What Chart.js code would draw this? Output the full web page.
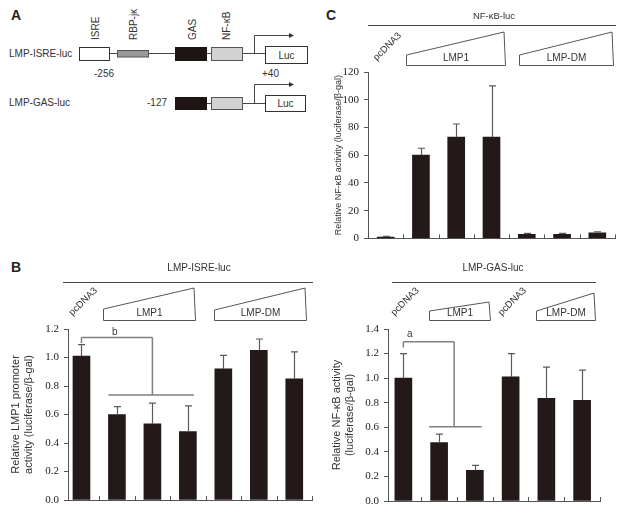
<!DOCTYPE html>
<html><head><meta charset="utf-8">
<script src="https://cdn.jsdelivr.net/npm/chart.js@4.4.1/dist/chart.umd.min.js"></script>
<style>
html,body{margin:0;padding:0;background:#fff;}
body{width:628px;height:513px;position:relative;overflow:hidden;font-family:'Liberation Sans',Arial,sans-serif;color:#333;}
.wrap{position:absolute;}
.pl{position:absolute;font-weight:bold;font-size:14px;color:#222;font-family:'Liberation Sans',Arial,sans-serif;}
svg{position:absolute;left:0;top:0;}
.preload{position:absolute;left:-999px;top:-999px;}
</style></head>
<body>
<span class="preload" style="font-family:'Liberation Serif'">0.123</span>
<span class="preload" style="font-family:'Liberation Sans'">abc</span>

<svg width="320" height="130" viewBox="0 0 320 130" font-family="Liberation Sans, Arial, sans-serif" font-size="10" fill="#333">
  <!-- row 1 -->
  <text x="9" y="57">LMP-ISRE-luc</text>
  <line x1="109" y1="53.5" x2="265" y2="53.5" stroke="#444" stroke-width="1"/>
  <rect x="79.5" y="47.5" width="30" height="13" fill="#fff" stroke="#333"/>
  <rect x="117.5" y="50.5" width="31" height="6.5" fill="#9a9a9a" stroke="#555"/>
  <rect x="175.5" y="47.5" width="31" height="13" fill="#1d1414" stroke="#1d1414"/>
  <rect x="211.5" y="47.5" width="31" height="13" fill="#d2d2d2" stroke="#555"/>
  <polyline points="254.5,53.5 254.5,35.5 290,35.5" fill="none" stroke="#444"/>
  <polygon points="289,33 294,35.5 289,38" fill="#333"/>
  <rect x="265.5" y="46.5" width="42" height="17" fill="#fff" stroke="#333"/>
  <text x="286.5" y="58.5" text-anchor="middle">Luc</text>
  <text transform="translate(98.5,40) rotate(-90)" font-size="10">ISRE</text>
  <text transform="translate(136.5,40) rotate(-90)" font-size="10">RBP-jκ</text>
  <text transform="translate(195.5,40) rotate(-90)" font-size="10">GAS</text>
  <text transform="translate(229.5,40) rotate(-90)" font-size="10">NF-κB</text>
  <text x="94" y="77">-256</text>
  <text x="262" y="77">+40</text>
  <!-- row 2 -->
  <text x="9" y="106">LMP-GAS-luc</text>
  <text x="147" y="106">-127</text>
  <line x1="206" y1="103.5" x2="265" y2="103.5" stroke="#444"/>
  <rect x="175.5" y="97.5" width="31" height="12" fill="#1d1414" stroke="#1d1414"/>
  <rect x="211.5" y="97.5" width="31" height="12" fill="#d2d2d2" stroke="#555"/>
  <polyline points="254.5,103.5 254.5,84.5 290,84.5" fill="none" stroke="#444"/>
  <polygon points="289,82 294,84.5 289,87" fill="#333"/>
  <rect x="265.5" y="95.5" width="40" height="16" fill="#fff" stroke="#333"/>
  <text x="285.5" y="107" text-anchor="middle">Luc</text>
</svg>

<div class="pl" style="left:11px;top:7px;">A</div>
<div class="pl" style="left:11px;top:259px;">B</div>
<div class="pl" style="left:326px;top:7px;">C</div>

<div class="wrap" style="left:300px;top:0px;"><canvas id="cC" width="328" height="250"></canvas></div>
<div class="wrap" style="left:0px;top:250px;"><canvas id="cB1" width="320" height="263"></canvas></div>
<div class="wrap" style="left:320px;top:250px;"><canvas id="cB2" width="308" height="263"></canvas></div>

<script>
// ---------------- DATA ----------------
// Panel C: NF-kB-luc
const categoriesC = ['pcDNA3', 'LMP1', 'LMP1', 'LMP1', 'LMP-DM', 'LMP-DM', 'LMP-DM'];
const valuesC     = [1, 60, 73, 73, 3, 3, 4];
const errorTopC   = [1.4, 65, 82.5, 110, 3.6, 3.6, 4.8];
const ticksC      = [0, 20, 40, 60, 80, 100, 120];
const groupsC     = ['LMP1', 'LMP-DM'];

// Panel B left: LMP-ISRE-luc
const categoriesB1 = ['pcDNA3', 'LMP1', 'LMP1', 'LMP1', 'LMP-DM', 'LMP-DM', 'LMP-DM'];
const valuesB1     = [1.01, 0.60, 0.535, 0.48, 0.92, 1.05, 0.85];
const errorTopB1   = [1.09, 0.655, 0.68, 0.66, 1.015, 1.13, 1.04];
const ticksB1      = [0, 0.2, 0.4, 0.6, 0.8, 1.0, 1.2];
const groupsB1     = ['LMP1', 'LMP-DM'];

// Panel B right: LMP-GAS-luc
const categoriesB2 = ['pcDNA3', 'LMP1', 'LMP1', 'pcDNA3', 'LMP-DM', 'LMP-DM'];
const valuesB2     = [1.0, 0.475, 0.25, 1.01, 0.835, 0.82];
const errorTopB2   = [1.2, 0.545, 0.29, 1.2, 1.09, 1.065];
const ticksB2      = [0, 0.2, 0.4, 0.6, 0.8, 1.0, 1.2, 1.4];
const groupsB2     = ['LMP1', 'LMP-DM'];

// ---------------- STYLE ----------------
const BAR = '#221918';
const AX = '#555';
const TXT = '#333';
const SANS = "'Liberation Sans', Arial, sans-serif";
const SERIF = "'Liberation Serif', serif";

const decorPlugin = {
  id: 'decor',
  afterDraw(chart, args, o) {
    const ctx = chart.ctx, xs = chart.scales.x, ys = chart.scales.y, area = chart.chartArea;
    const X = v => xs.getPixelForValue(v), Y = v => ys.getPixelForValue(v);
    ctx.save();
    // error bars (upper only, with cap)
    ctx.strokeStyle = '#5a5a5a'; ctx.lineWidth = 1.2;
    chart.getDatasetMeta(0).data.forEach((bar, i) => {
      const x = Math.round(bar.x) + 0.5, y0 = bar.y, y1 = Y(o.errTop[i]);
      ctx.beginPath(); ctx.moveTo(x, y0); ctx.lineTo(x, y1);
      ctx.moveTo(x - 3.5, y1); ctx.lineTo(x + 3.5, y1); ctx.stroke();
    });
    // inward x ticks at category boundaries
    ctx.strokeStyle = AX; ctx.lineWidth = 1;
    for (let i = 0; i < o.n; i++) {
      const x = Math.round(X(i + 0.5)) + 0.5;
      ctx.beginPath(); ctx.moveTo(x, area.bottom); ctx.lineTo(x, area.bottom - 4); ctx.stroke();
    }
    // header
    const h = o.header;
    ctx.fillStyle = TXT; ctx.font = h.size + 'px ' + SANS; ctx.textAlign = 'center'; ctx.textBaseline = 'middle';
    ctx.fillText(h.text, h.tx, h.ty);
    ctx.strokeStyle = '#444'; ctx.lineWidth = 1;
    ctx.beginPath(); ctx.moveTo(h.x0, h.ly + 0.5); ctx.lineTo(h.x1, h.ly + 0.5); ctx.stroke();
    // group trapezoids
    ctx.strokeStyle = '#555'; ctx.lineWidth = 1;
    o.groups.forEach((g, k) => {
      const x0 = Math.round(X(g.from)) + 0.5, x1 = Math.round(X(g.to)) + 0.5;
      ctx.beginPath();
      ctx.moveTo(x0, g.lt); ctx.lineTo(x0, g.bottom + 0.5); ctx.lineTo(x1, g.bottom + 0.5);
      ctx.lineTo(x1 - 1.5, g.rt); ctx.closePath(); ctx.stroke();
      ctx.fillStyle = TXT; ctx.font = '10px ' + SANS; ctx.textAlign = 'center'; ctx.textBaseline = 'middle';
      ctx.fillText(o.groupNames[k], (x0 + x1) / 2, g.bottom - 7);
    });
    // rotated control labels
    ctx.font = '9.5px ' + SANS; ctx.textAlign = 'left'; ctx.textBaseline = 'alphabetic'; ctx.fillStyle = TXT;
    o.cats.forEach((c, i) => {
      if (c !== 'pcDNA3') return;
      ctx.save(); ctx.translate(X(i - 0.25), o.rotY); ctx.rotate(-Math.PI / 4);
      ctx.fillText(c, 0, 0); ctx.restore();
    });
    // significance bracket
    if (o.bracket) {
      ctx.strokeStyle = '#808080'; ctx.lineWidth = 1.5;
      ctx.beginPath();
      o.bracket.segs.forEach(s => { ctx.moveTo(X(s[0]), Y(s[1])); ctx.lineTo(X(s[2]), Y(s[3])); });
      ctx.stroke();
      ctx.fillStyle = TXT; ctx.font = '10px ' + SANS; ctx.textAlign = 'center'; ctx.textBaseline = 'middle';
      ctx.fillText(o.bracket.label, X(o.bracket.lx), Y(o.bracket.ly));
    }
    ctx.restore();
  }
};

function makeChart(id, cfg) {
  return new Chart(document.getElementById(id), {
    type: 'bar',
    data: {
      labels: cfg.cats,
      datasets: [{
        data: cfg.vals.map((v, i) => ({ x: i, y: v })),
        backgroundColor: BAR, borderWidth: 0, barThickness: 17
      }]
    },
    options: {
      responsive: false, animation: false,
      layout: { padding: cfg.padding },
      plugins: {
        legend: { display: false }, tooltip: { enabled: false },
        decor: {
          errTop: cfg.err, n: cfg.cats.length, cats: cfg.cats, header: cfg.header,
          groups: cfg.groups, groupNames: cfg.groupNames, rotY: cfg.rotY, bracket: cfg.bracket
        }
      },
      scales: {
        x: {
          type: 'linear', min: cfg.xmin, max: cfg.xmax, offset: false,
          ticks: { display: false }, grid: { display: false },
          border: { display: true, color: AX, width: 1 },
          afterFit(s) { s.height = cfg.xh; }
        },
        y: {
          min: cfg.ticks[0], max: cfg.ticks[cfg.ticks.length - 1],
          afterBuildTicks(s) { s.ticks = cfg.ticks.map(v => ({ value: v })); },
          ticks: { font: { family: SERIF, size: 11 }, color: '#222', padding: 5, callback: cfg.fmt },
          grid: { drawOnChartArea: false, drawTicks: true, tickLength: 4, color: AX },
          border: { display: true, color: AX, width: 1 },
          title: { display: true, text: cfg.title, color: TXT,
                   font: { family: SANS, size: cfg.titleSize, lineHeight: 1.2 },
                   padding: { top: cfg.titlePad, bottom: 0 } },
          afterFit(s) { s.width = 68; }
        }
      }
    },
    plugins: [decorPlugin]
  });
}

function drawAll() {
  makeChart('cC', {
    cats: categoriesC, vals: valuesC, err: errorTopC, ticks: ticksC, groupNames: groupsC,
    fmt: v => String(v),
    padding: { left: 0, top: 72, right: 13, bottom: 0 }, xh: 7, xmin: -0.5, xmax: 6.5,
    title: 'Relative NF-κB activity (luciferase/β-gal)', titleSize: 9, titlePad: 33.5,
    header: { text: 'NF-κB-luc', size: 9.5, tx: 194, ty: 16, x0: 68, x1: 316, ly: 25 },
    groups: [ { from: 0.57, to: 3.37, bottom: 65, lt: 55, rt: 32 },
              { from: 3.77, to: 6.43, bottom: 65, lt: 55, rt: 32 } ],
    rotY: 61
  });

  makeChart('cB1', {
    cats: categoriesB1, vals: valuesB1, err: errorTopB1, ticks: ticksB1, groupNames: groupsB1,
    fmt: v => v.toFixed(1),
    padding: { left: 0, top: 79, right: 8, bottom: 0 }, xh: 13, xmin: -0.38, xmax: 6.5,
    title: ['Relative LMP1 promoter', 'activity (luciferase/β-gal)'], titleSize: 11, titlePad: 9.5,
    header: { text: 'LMP-ISRE-luc', size: 10, tx: 199, ty: 18, x0: 63, x1: 313, ly: 32 },
    groups: [ { from: 0.61, to: 3.2, bottom: 70, lt: 59, rt: 38 },
              { from: 3.74, to: 6.33, bottom: 70, lt: 60, rt: 38 } ],
    rotY: 66,
    bracket: { segs: [[0, 1.10, 0, 1.14], [0, 1.14, 2, 1.14], [2, 1.14, 2, 0.737], [0.76, 0.737, 3.17, 0.737]],
               label: 'b', lx: 0.94, ly: 1.18 }
  });

  makeChart('cB2', {
    cats: categoriesB2, vals: valuesB2, err: errorTopB2, ticks: ticksB2, groupNames: groupsB2,
    fmt: v => v.toFixed(1),
    padding: { left: 0, top: 79, right: 28, bottom: 0 }, xh: 12, xmin: -0.43, xmax: 5.5,
    title: ['Relative NF-κB activity', '(luciferase/β-gal)'], titleSize: 11, titlePad: 10.5,
    header: { text: 'LMP-GAS-luc', size: 10, tx: 173, ty: 18, x0: 72, x1: 276, ly: 32 },
    groups: [ { from: 0.72, to: 2.41, bottom: 70, lt: 61, rt: 52 },
              { from: 3.7, to: 5.36, bottom: 70, lt: 61, rt: 43 } ],
    rotY: 66,
    bracket: { segs: [[0, 1.25, 0, 1.297], [0, 1.297, 1.42, 1.297], [1.42, 1.297, 1.42, 0.604], [0.72, 0.604, 2.19, 0.604]],
               label: 'a', lx: 0.18, ly: 1.36 }
  });
}

let drawn = false;
function once() { if (!drawn) { drawn = true; drawAll(); } }
if (document.fonts && document.fonts.load) {
  Promise.all([
    document.fonts.load("11px 'Liberation Serif'"),
    document.fonts.load("11px 'Liberation Sans'")
  ]).then(once, once);
  setTimeout(once, 300);
} else {
  once();
}
</script>
</body></html>
